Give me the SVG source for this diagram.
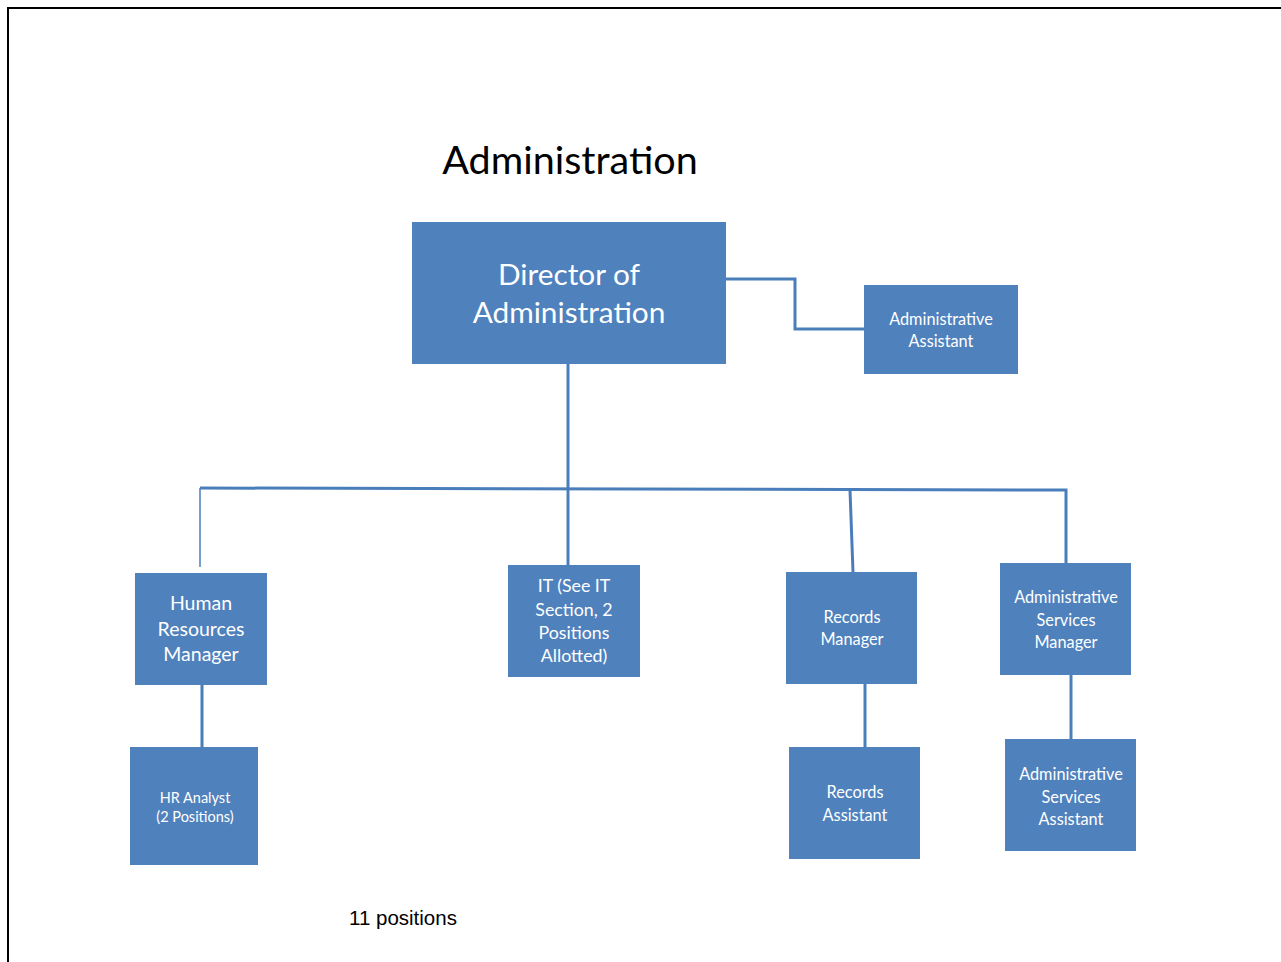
<svg xmlns="http://www.w3.org/2000/svg" width="1281" height="962" viewBox="0 0 1281 962">
  <style>
    .box { fill: #4F81BD; }
    .lbl { font-family: Lato, "Open Sans", sans-serif; fill: #FFFFFF; text-anchor: middle; }
    .s { font-size: 16.3px; }
    .conn { fill: none; stroke: #4A7EBB; stroke-width: 3; }
    .thin { fill: none; stroke: #4A7EBB; stroke-width: 1.5; }
  </style>
  <rect width="1281" height="962" fill="#FFFFFF"/>
  <!-- page frame -->
  <path d="M8 962 V8 H1281" fill="none" stroke="#000000" stroke-width="2"/>

  <text x="570" y="174" font-family="Lato, 'Open Sans', sans-serif" font-size="39.5" text-anchor="middle" fill="#000000">Administration</text>

  <g id="connectors">
    <path class="conn" d="M726 279 H795 V329 H864"/>
    <path class="conn" d="M568 364 V565"/>
    <path class="conn" d="M200 488 L1066 490 V563"/>
    <path class="thin" d="M200 488 V567"/>
    <path class="conn" d="M850 490 L853 572"/>
    <path class="conn" d="M202 685 V747"/>
    <path class="conn" d="M865 684 V747"/>
    <path class="conn" d="M1071 675 V739"/>
  </g>

  <g id="director">
    <rect class="box" x="412" y="222" width="314" height="142"/>
    <text class="lbl" x="569" y="285" font-size="29.8">Director of</text>
    <text class="lbl" x="569" y="323" font-size="29.8">Administration</text>
  </g>

  <g id="admin-assistant">
    <rect class="box" x="864" y="285" width="154" height="89"/>
    <text class="lbl s" x="941" y="325">Administrative</text>
    <text class="lbl s" x="941" y="347">Assistant</text>
  </g>

  <g id="hr-manager">
    <rect class="box" x="135" y="573" width="132" height="112"/>
    <text class="lbl" x="201" y="610" font-size="19.5">Human</text>
    <text class="lbl" x="201" y="636" font-size="19.5">Resources</text>
    <text class="lbl" x="201" y="661" font-size="19.5">Manager</text>
  </g>

  <g id="it">
    <rect class="box" x="508" y="565" width="132" height="112"/>
    <text class="lbl" x="574" y="592" font-size="17.8">IT (See IT</text>
    <text class="lbl" x="574" y="616" font-size="17.8">Section, 2</text>
    <text class="lbl" x="574" y="639" font-size="17.8">Positions</text>
    <text class="lbl" x="574" y="662" font-size="17.8">Allotted)</text>
  </g>

  <g id="records-manager">
    <rect class="box" x="786" y="572" width="131" height="112"/>
    <text class="lbl s" x="852" y="623">Records</text>
    <text class="lbl s" x="852" y="645">Manager</text>
  </g>

  <g id="admin-services-manager">
    <rect class="box" x="1000" y="563" width="131" height="112"/>
    <text class="lbl s" x="1066" y="603">Administrative</text>
    <text class="lbl s" x="1066" y="626">Services</text>
    <text class="lbl s" x="1066" y="648">Manager</text>
  </g>

  <g id="hr-analyst">
    <rect class="box" x="130" y="747" width="128" height="118"/>
    <text class="lbl" x="195" y="803" font-size="14.5">HR Analyst</text>
    <text class="lbl" x="195" y="822" font-size="14.5">(2 Positions)</text>
  </g>

  <g id="records-assistant">
    <rect class="box" x="789" y="747" width="131" height="112"/>
    <text class="lbl s" x="855" y="798">Records</text>
    <text class="lbl s" x="855" y="821">Assistant</text>
  </g>

  <g id="admin-services-assistant">
    <rect class="box" x="1005" y="739" width="131" height="112"/>
    <text class="lbl s" x="1071" y="780">Administrative</text>
    <text class="lbl s" x="1071" y="803">Services</text>
    <text class="lbl s" x="1071" y="825">Assistant</text>
  </g>

  <text x="349" y="925" font-family="'Liberation Sans', Arial, sans-serif" font-size="20.5" fill="#000000">11 positions</text>
</svg>
